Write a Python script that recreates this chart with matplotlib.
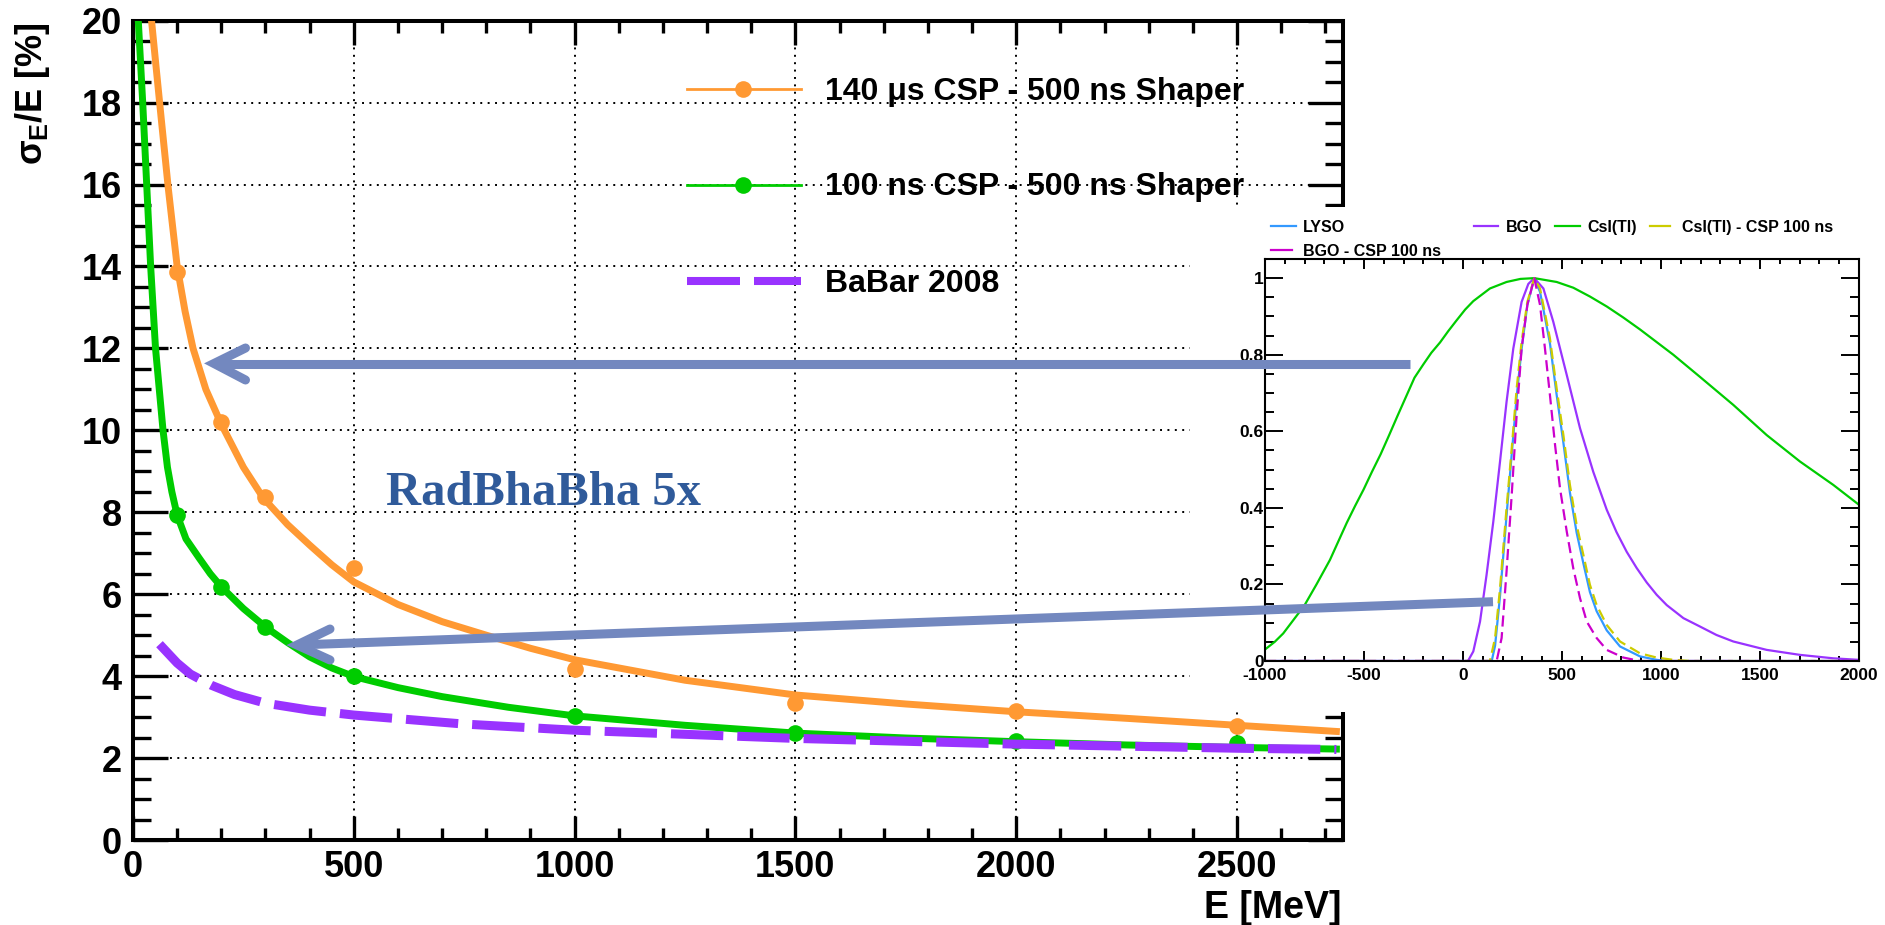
import matplotlib
matplotlib.use("Agg")
import matplotlib.pyplot as plt
from matplotlib.patches import Rectangle
from matplotlib.ticker import MultipleLocator, FuncFormatter

plt.rcParams["font.family"] = ["Liberation Sans", "DejaVu Sans"]
plt.rcParams["font.weight"] = "bold"
plt.rcParams["axes.unicode_minus"] = False
plt.rcParams["mathtext.fontset"] = "custom"
plt.rcParams["mathtext.rm"] = "Liberation Sans"
plt.rcParams["mathtext.it"] = "Liberation Sans"
plt.rcParams["mathtext.bf"] = "Liberation Sans:bold"

# ---------------- datos: resolucion en energia ----------------
E_POINTS = [100, 200, 300, 500, 1000, 1500, 2000, 2500]
RES_140US = [13.87, 10.21, 8.38, 6.63, 4.17, 3.34, 3.15, 2.79]
RES_100NS = [7.93, 6.18, 5.21, 4.00, 3.03, 2.60, 2.42, 2.37]

FIT_140US_E = [42, 52, 64, 80, 100, 118, 136, 165, 200, 250, 295, 350, 400,
               450, 500, 600, 700, 800, 900, 1000, 1250, 1500, 1750, 2000,
               2250, 2500, 2725]
FIT_140US = [20.0, 18.9, 17.6, 15.9, 14.0, 12.9, 12.0, 11.0, 10.15, 9.1, 8.35,
             7.7, 7.2, 6.72, 6.3, 5.75, 5.33, 5.0, 4.68, 4.4, 3.9, 3.54, 3.32,
             3.13, 2.97, 2.80, 2.65]

FIT_100NS_E = [12, 22, 31, 40, 51, 68, 78, 88, 100, 120, 150, 175, 200, 250,
               300, 350, 400, 450, 500, 600, 700, 850, 1000, 1250, 1500, 1750,
               2000, 2250, 2500, 2725]
FIT_100NS = [20.0, 18.0, 16.0, 14.0, 12.0, 10.0, 9.1, 8.5, 7.93, 7.35, 6.88,
             6.5, 6.18, 5.65, 5.2, 4.82, 4.47, 4.2, 3.99, 3.72, 3.5, 3.24, 3.03,
             2.8, 2.61, 2.49, 2.40, 2.32, 2.26, 2.22]

BABAR_E = [60, 100, 130, 177, 230, 300, 400, 500, 750, 1000, 1500, 2000, 2500,
           2725]
BABAR = [4.78, 4.32, 4.05, 3.78, 3.55, 3.34, 3.17, 3.05, 2.83, 2.68, 2.48,
         2.34, 2.24, 2.21]

LABEL_140US = "140 \u03bcs CSP - 500 ns Shaper"
LABEL_100NS = "100 ns CSP - 500 ns Shaper"
LABEL_BABAR = "BaBar 2008"

# ---------------- datos: formas de pulso (inset) ----------------
T_LYSO = [-1000, 145, 162, 187, 220, 246, 271, 296, 325, 360, 389, 439, 473,
          507, 540, 574, 608, 641, 675, 726, 793, 894, 978, 1030, 2000]
V_LYSO = [0, 0, 0.04, 0.17, 0.38, 0.54, 0.69, 0.815, 0.93, 1.0, 0.964, 0.830,
          0.695, 0.570, 0.440, 0.335, 0.255, 0.180, 0.130, 0.080, 0.038, 0.012,
          0.003, 0, 0]

T_BGO = [-1000, 25, 52, 86, 119, 153, 187, 220, 254, 296, 330, 360, 406, 456,
         524, 591, 658, 726, 775, 827, 877, 928, 978, 1029, 1113, 1197, 1280,
         1365, 1534, 1702, 1870, 2000]
V_BGO = [0, 0, 0.025, 0.103, 0.225, 0.364, 0.521, 0.677, 0.816, 0.938, 0.985,
         1.0, 0.973, 0.886, 0.747, 0.608, 0.494, 0.395, 0.337, 0.285, 0.243,
         0.205, 0.173, 0.146, 0.112, 0.09, 0.068, 0.051, 0.029, 0.016, 0.007,
         0.003]

T_CSI = [-1000, -951, -908, -801, -740, -672, -630, -587, -545, -502, -460,
         -416, -373, -331, -288, -245, -200, -160, -116, -74, -32, 11, 52, 136,
         220, 290, 360, 473, 557, 641, 726, 810, 894, 978, 1062, 1197, 1365,
         1534, 1702, 1870, 2000]
V_CSI = [0.030, 0.050, 0.072, 0.145, 0.200, 0.264, 0.312, 0.361, 0.405, 0.448,
         0.494, 0.540, 0.590, 0.640, 0.690, 0.740, 0.775, 0.805, 0.832, 0.862,
         0.890, 0.918, 0.940, 0.973, 0.990, 0.998, 1.0, 0.990, 0.975, 0.952,
         0.926, 0.897, 0.866, 0.833, 0.800, 0.742, 0.669, 0.590, 0.521, 0.460,
         0.408]

T_CSI_CSP = [-1000, 136, 162, 187, 220, 246, 271, 296, 325, 360, 389, 439, 473,
             507, 540, 574, 608, 641, 675, 726, 793, 894, 978, 1062, 1150, 2000]
V_CSI_CSP = [0, 0, 0.06, 0.19, 0.40, 0.555, 0.712, 0.834, 0.938, 1.0, 0.973,
             0.843, 0.712, 0.590, 0.460, 0.355, 0.277, 0.199, 0.146, 0.094,
             0.051, 0.020, 0.009, 0.003, 0, 0]

T_BGO_CSP = [-1000, 170, 195, 220, 246, 271, 296, 325, 360, 389, 414, 439, 465,
             490, 524, 557, 591, 625, 675, 726, 810, 894, 2000]
V_BGO_CSP = [0, 0, 0.06, 0.234, 0.434, 0.642, 0.816, 0.930, 1.0, 0.930, 0.816,
             0.695, 0.564, 0.451, 0.338, 0.242, 0.164, 0.103, 0.060, 0.029,
             0.009, 0.0, 0]

# colores
ORANGE = "#FF9933"
GREEN = "#00CC00"
PURPLE = "#9933FF"
LYSO_C = "#3399FF"
YELLOW = "#CCCC00"
MAGENTA = "#CC00CC"
ARROW_C = "#7388BF"
TEXT_BLUE = "#2F5A9A"

W, H = 1885, 925


def fig_rect(x0, y0, x1, y1):
    """Pasa un rectangulo en pixeles (origen arriba) a fraccion de figura."""
    return [x0 / W, 1 - y1 / H, (x1 - x0) / W, (y1 - y0) / H]


fig = plt.figure(figsize=(W / 100, H / 100), dpi=100)

# ---------------- grafico principal ----------------
ax = fig.add_axes(fig_rect(133, 20.7, 1343, 840))
ax.plot(FIT_140US_E, FIT_140US, color=ORANGE, lw=5, zorder=3)
ax.plot(E_POINTS, RES_140US, "o", color=ORANGE, ms=12, mew=0, zorder=4)
ax.plot(FIT_100NS_E, FIT_100NS, color=GREEN, lw=5, zorder=3)
ax.plot(E_POINTS, RES_100NS, "o", color=GREEN, ms=12, mew=0, zorder=4)
ax.plot(BABAR_E, BABAR, color=PURPLE, lw=6.5, linestyle=(0, (5.8, 1.55)),
        zorder=5)

ax.set_xlim(0, 2740)
ax.set_ylim(0, 20)
ax.xaxis.set_major_locator(MultipleLocator(500))
ax.xaxis.set_minor_locator(MultipleLocator(100))
ax.yaxis.set_major_locator(MultipleLocator(2))
ax.yaxis.set_minor_locator(MultipleLocator(0.5))
ax.tick_params(which="both", direction="in", top=True, right=True,
               width=2.4, labelsize=26)
ax.tick_params(axis="x", which="major", length=17, pad=7)
ax.tick_params(axis="x", which="minor", length=8.6)
ax.tick_params(axis="y", which="major", length=25, pad=8)
ax.tick_params(axis="y", which="minor", length=13)
ax.grid(True, which="major", color="black", linestyle=(0, (1, 2.8)),
        linewidth=1.4)
for s in ax.spines.values():
    s.set_linewidth(2.9)

# fondo blanco de la imagen pegada
fig.add_artist(Rectangle((1190 / W, 1 - 712 / H), 695 / W, (712 - 207) / H,
                         transform=fig.transFigure, facecolor="white",
                         edgecolor="none", zorder=1))

# ---------------- inset: formas de pulso ----------------
ax2 = fig.add_axes(fig_rect(1265, 259, 1859, 661))
ax2.set_zorder(2)
ax2.plot(T_LYSO, V_LYSO, color=LYSO_C, lw=1.6)
ax2.plot(T_BGO, V_BGO, color=PURPLE, lw=1.6)
ax2.plot(T_CSI, V_CSI, color=GREEN, lw=1.6)
ax2.plot(T_CSI_CSP, V_CSI_CSP, color=YELLOW, lw=1.6, linestyle=(0, (5, 2.5)))
ax2.plot(T_BGO_CSP, V_BGO_CSP, color=MAGENTA, lw=1.6, linestyle=(0, (5, 2.5)))
ax2.set_xlim(-1000, 2000)
ax2.set_ylim(0, 1.05)
ax2.xaxis.set_major_locator(MultipleLocator(500))
ax2.xaxis.set_minor_locator(MultipleLocator(100))
ax2.yaxis.set_major_locator(MultipleLocator(0.2))
ax2.yaxis.set_minor_locator(MultipleLocator(0.05))
ax2.yaxis.set_major_formatter(FuncFormatter(lambda v, _: f"{v:g}"))
ax2.tick_params(which="both", direction="in", top=True, right=True,
                width=1.4, labelsize=12.5)
ax2.tick_params(axis="x", which="major", length=7.5, pad=5)
ax2.tick_params(axis="x", which="minor", length=3.6)
ax2.tick_params(axis="y", which="major", length=13, pad=1)
ax2.tick_params(axis="y", which="minor", length=6.5)
for s in ax2.spines.values():
    s.set_linewidth(1.5)

# ---------------- capa de anotaciones en pixeles ----------------
ov = fig.add_axes([0, 0, 1, 1])
ov.set_zorder(3)
ov.set_xlim(0, W)
ov.set_ylim(H, 0)
ov.axis("off")
ov.patch.set_alpha(0)

# leyenda principal
ov.plot([686.5, 801], [89, 89], color=ORANGE, lw=2)
ov.plot([743], [89], "o", color=ORANGE, ms=12, mew=0)
ov.text(825, 100, LABEL_140US, fontsize=23, va="baseline", ha="left")
ov.plot([686.5, 801], [185, 185], color=GREEN, lw=2)
ov.plot([743], [185], "o", color=GREEN, ms=12, mew=0)
ov.text(825, 195, LABEL_100NS, fontsize=23, va="baseline", ha="left")
ov.plot([686.5, 739.6], [281, 281], color=PURPLE, lw=5.8, solid_capstyle="butt")
ov.plot([753.9, 800.8], [281, 281], color=PURPLE, lw=5.8, solid_capstyle="butt")
ov.text(825, 291.7, LABEL_BABAR, fontsize=23, va="baseline", ha="left")

# leyenda del inset
inset_leg = [
    (1271, 1296, 225.8, LYSO_C, "LYSO"),
    (1474, 1498, 225.8, PURPLE, "BGO"),
    (1555, 1580, 225.8, GREEN, "CsI(Tl)"),
    (1650, 1670, 225.8, YELLOW, "CsI(Tl) - CSP 100 ns"),
    (1271, 1292, 249.5, MAGENTA, "BGO - CSP 100 ns"),
]
for x0, x1, y, c, lab in inset_leg:
    ov.plot([x0, x1], [y, y], color=c, lw=1.6)
    ov.text(x0 + 32, y + 6.5, lab, fontsize=11.5, va="baseline", ha="left")

# flechas
ov.plot([220, 1410], [363.5, 363.5], color=ARROW_C, lw=6.5,
        solid_capstyle="butt")
ov.plot([245.5, 214, 245.5], [348, 363.5, 380], color=ARROW_C, lw=6.5,
        solid_capstyle="round", solid_joinstyle="miter")
ov.plot([303, 1493], [644.8, 601.7], color=ARROW_C, lw=6.5,
        solid_capstyle="butt")
ov.plot([330, 297, 330], [629, 645, 660], color=ARROW_C, lw=6.5,
        solid_capstyle="round", solid_joinstyle="miter")

ov.text(386, 505, "RadBhaBha 5x", fontsize=35, family=["Liberation Serif"],
        weight="bold", color=TEXT_BLUE, va="baseline", ha="left")

# titulos de ejes
ov.text(33, 22, r"$\sigma_{\mathbf{E}}$/E [%]", rotation=90, ha="center",
        va="top", fontsize=26)
ov.text(1341, 890, "E [MeV]", ha="right", va="top", fontsize=27)

fig.savefig("out.png", dpi=100)
